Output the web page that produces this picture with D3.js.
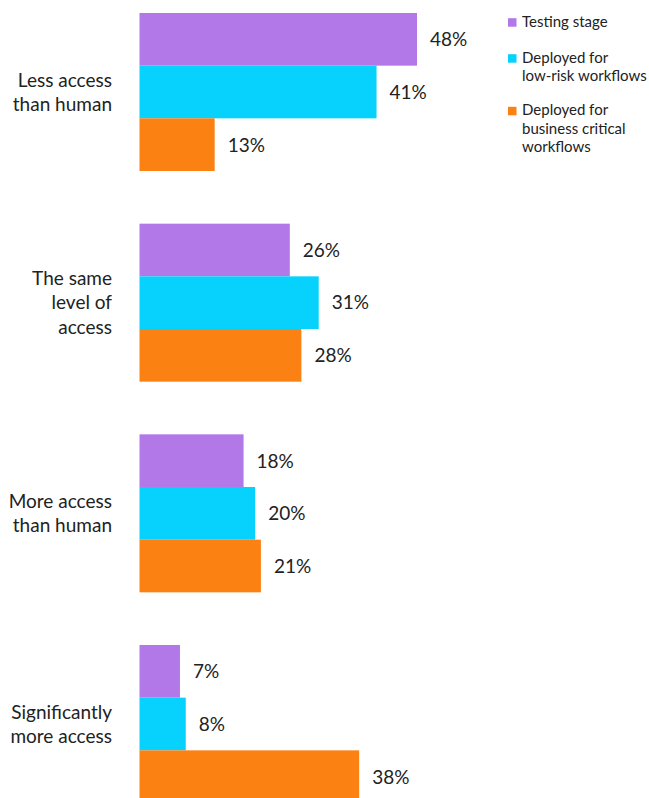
<!DOCTYPE html>
<html>
<head>
<meta charset="utf-8">
<script src="https://cdn.jsdelivr.net/npm/d3@7/dist/d3.min.js"></script>
<style>
  html, body { margin: 0; padding: 0; background: #fff; overflow: hidden; }
  svg { display: block; font-family: Lato, "Noto Sans", sans-serif; }
</style>
</head>
<body>
<svg id="chart" width="649" height="798"></svg>
<script>
// Access level categories (each label split into lines)
const categories = ["Less access than human", "The same level of access", "More access than human", "Significantly more access"];
const categoryLines = [
  ["Less access", "than human"],
  ["The same", "level of", "access"],
  ["More access", "than human"],
  ["Significantly", "more access"]
];
const seriesNames = ["Testing stage", "Deployed for low-risk workflows", "Deployed for business critical workflows"];
const legendLines = [
  ["Testing stage"],
  ["Deployed for", "low-risk workflows"],
  ["Deployed for", "business critical", "workflows"]
];
const colors = ["#b378e8", "#07d2fd", "#fb8113"];

// Percentages per series, in category order
const testing = [48, 26, 18, 7];
const lowRisk = [41, 31, 20, 8];
const critical = [13, 28, 21, 38];
const seriesValues = [testing, lowRisk, critical];

const svg = d3.select("#chart");

const x0 = 139.5;
const x = d3.scaleLinear().domain([0, 48]).range([x0, 417]);

const y = d3.scaleBand()
  .domain(categories)
  .range([13, 13 + 3 * 210.67 + 158])
  .paddingInner(0.25)
  .paddingOuter(0);

const ySub = d3.scaleBand()
  .domain(seriesNames)
  .range([0, y.bandwidth()])
  .padding(0);

const rows = categories.map((c, i) => ({
  category: c,
  lines: categoryLines[i],
  values: seriesNames.map((s, j) => ({ series: s, value: seriesValues[j][i], color: colors[j] }))
}));

const groups = svg.selectAll("g.group")
  .data(rows)
  .join("g")
  .attr("class", "group")
  .attr("transform", d => `translate(0,${y(d.category)})`);

groups.selectAll("rect")
  .data(d => d.values)
  .join("rect")
  .attr("x", x(0))
  .attr("y", d => ySub(d.series))
  .attr("width", d => x(d.value) - x(0))
  .attr("height", ySub.bandwidth())
  .attr("fill", d => d.color);

groups.selectAll("text.value")
  .data(d => d.values)
  .join("text")
  .attr("class", "value")
  .attr("x", d => x(d.value) + 13)
  .attr("y", d => ySub(d.series) + ySub.bandwidth() / 2)
  .attr("dy", "0.36em")
  .attr("font-size", 19)
  .attr("fill", "#222")
  .text(d => d.value + "%");

// Category labels, right aligned, vertically centred on the group
const lineH = 24.5;
groups.append("text")
  .attr("class", "cat")
  .attr("text-anchor", "end")
  .attr("font-size", 19)
  .attr("fill", "#222")
  .each(function(d) {
    const n = d.lines.length;
    const mid = y.bandwidth() / 2;
    d3.select(this).selectAll("tspan")
      .data(d.lines)
      .join("tspan")
      .attr("x", 112)
      .attr("y", (l, k) => mid + (k - (n - 1) / 2) * lineH)
      .attr("dy", "0.36em")
      .text(l => l);
  });

// Legend
const legendBaselines = [26.7, 62.7, 115.3];
const legend = svg.append("g").attr("class", "legend");
legendLines.forEach((lines, i) => {
  const g = legend.append("g");
  g.append("rect")
    .attr("x", 508)
    .attr("y", legendBaselines[i] - 8.5)
    .attr("width", 8.5)
    .attr("height", 8.5)
    .attr("fill", colors[i]);
  g.append("text")
    .attr("font-size", 15)
    .attr("fill", "#222")
    .selectAll("tspan")
    .data(lines)
    .join("tspan")
    .attr("x", 522)
    .attr("y", (l, k) => legendBaselines[i] + k * 18.5)
    .text(l => l);
});
</script>
</body>
</html>
